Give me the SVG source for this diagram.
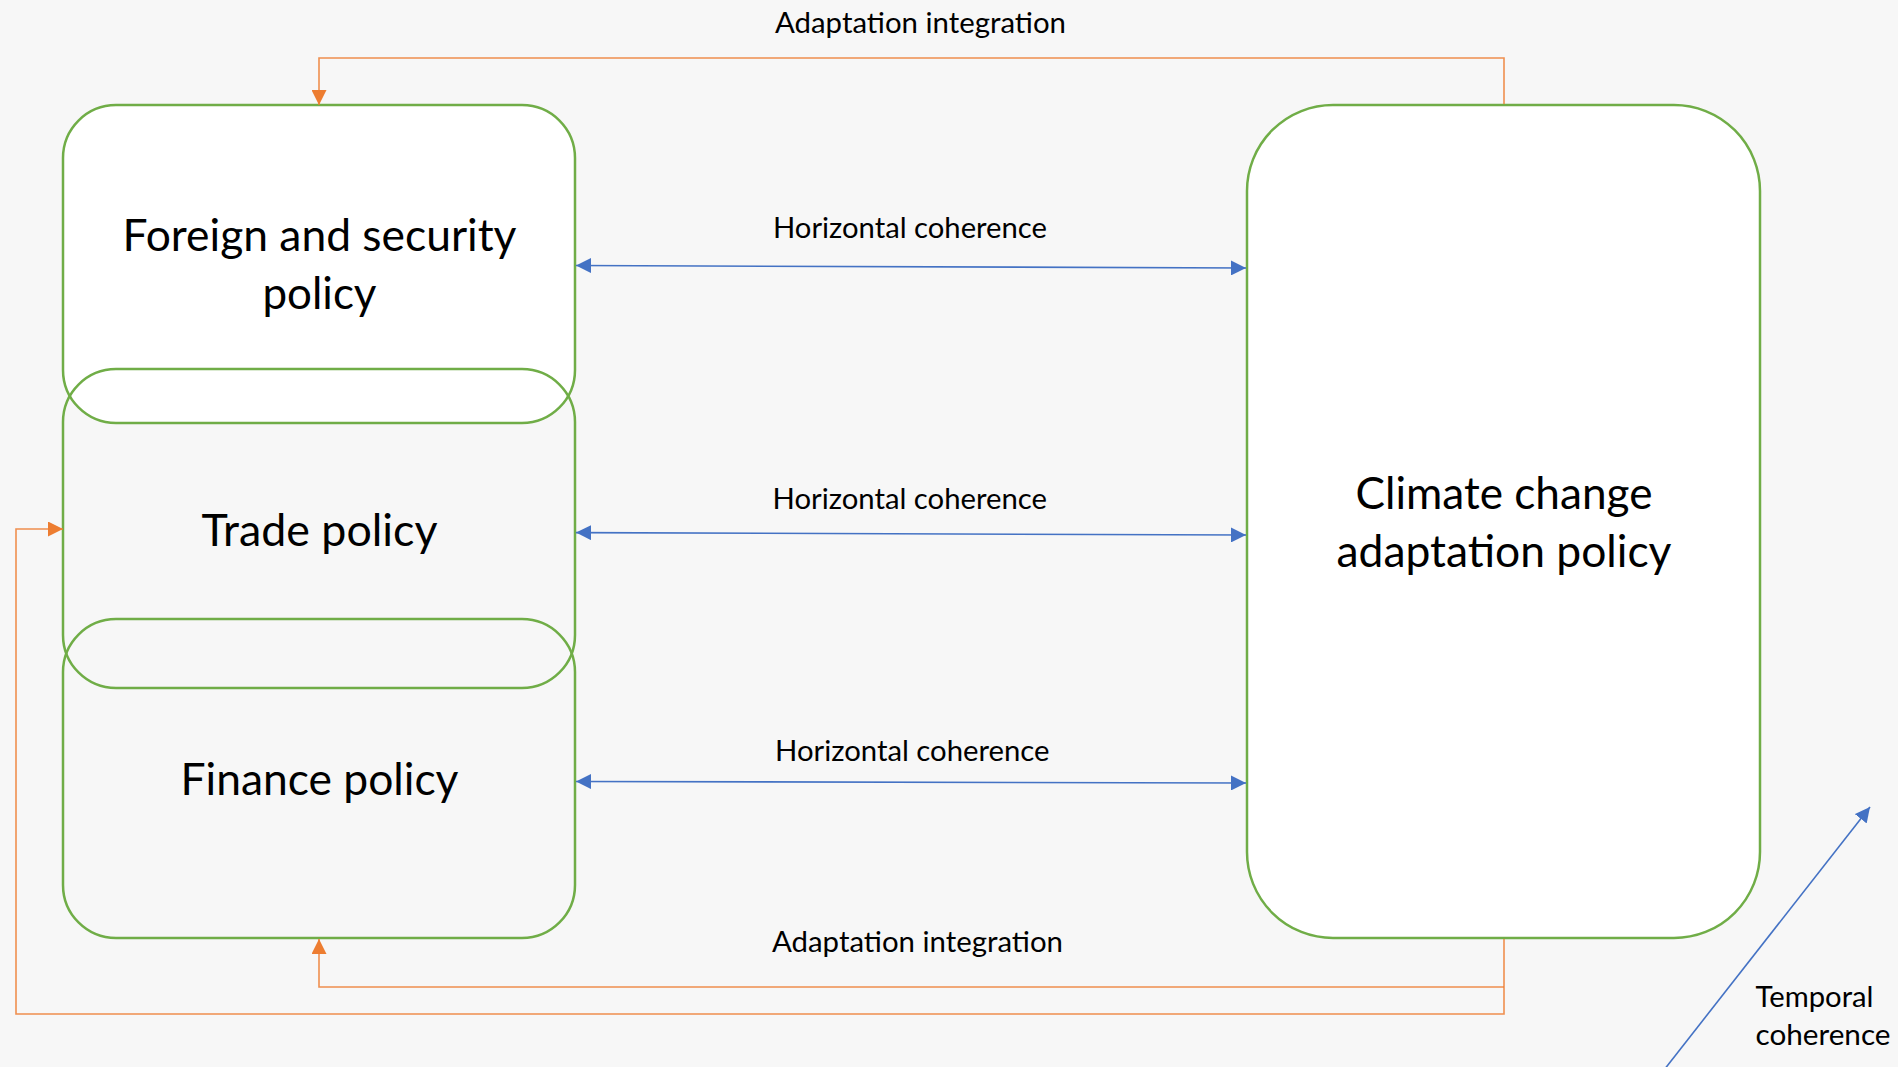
<svg xmlns="http://www.w3.org/2000/svg" width="1898" height="1067" viewBox="0 0 1898 1067">
<defs>
<style>
.box{stroke:#70AD47;stroke-width:2.5}
.big{font-family:Lato,"Open Sans","Liberation Sans",sans-serif;font-size:44px;fill:#000;text-anchor:middle}
.lbl{font-family:Lato,"Open Sans","Liberation Sans",sans-serif;font-size:28px;fill:#000}
.blue{stroke:#4472C4;stroke-width:1.6;fill:none}
.orange{stroke:#ED7D31;stroke-width:1.6;fill:none;stroke-opacity:0.85}
</style>
<marker id="ab" viewBox="0 0 10 10" refX="10" refY="5" markerUnits="userSpaceOnUse" markerWidth="15" markerHeight="15" orient="auto-start-reverse">
<path d="M0,0 L10,5 L0,10 z" fill="#4472C4"/>
</marker>
<marker id="ao" viewBox="0 0 10 10" refX="10" refY="5" markerUnits="userSpaceOnUse" markerWidth="15" markerHeight="15" orient="auto">
<path d="M0,0 L10,5 L0,10 z" fill="#ED7D31"/>
</marker>
</defs>
<rect x="0" y="0" width="1898" height="1067" fill="#F7F7F7"/>

<g id="foreign">
<rect class="box" x="63" y="105" width="512" height="318" rx="53" ry="53" fill="#FFFFFF"/>
<text class="big" x="319.5" y="250.5" textLength="394" lengthAdjust="spacingAndGlyphs">Foreign and security</text>
<text class="big" x="319.5" y="309" textLength="114" lengthAdjust="spacingAndGlyphs">policy</text>
</g>
<g id="trade">
<rect class="box" x="63" y="369" width="512" height="319" rx="53" ry="53" fill="none"/>
<text class="big" x="319.5" y="545.5" textLength="236" lengthAdjust="spacingAndGlyphs">Trade policy</text>
</g>
<g id="finance">
<rect class="box" x="63" y="619" width="512" height="319" rx="53" ry="53" fill="none"/>
<text class="big" x="319.5" y="795" textLength="278" lengthAdjust="spacingAndGlyphs">Finance policy</text>
</g>
<g id="climate">
<rect class="box" x="1247" y="105" width="513" height="833" rx="86" ry="86" fill="#FFFFFF"/>
<text class="big" x="1504" y="508.5" textLength="297" lengthAdjust="spacingAndGlyphs">Climate change</text>
<text class="big" x="1504" y="567" textLength="335" lengthAdjust="spacingAndGlyphs">adaptation policy</text>
</g>

<g id="connectors">
<path class="orange" d="M1504,104 V58 H319 V105" marker-end="url(#ao)"/>
<path class="orange" d="M1504,939 V1014 H16 V529 H63" marker-end="url(#ao)"/>
<path class="orange" d="M1504,987 H319 V939" marker-end="url(#ao)"/>
<line class="blue" x1="576" y1="265.5" x2="1246" y2="268" marker-start="url(#ab)" marker-end="url(#ab)"/>
<line class="blue" x1="576" y1="532.6" x2="1246" y2="535" marker-start="url(#ab)" marker-end="url(#ab)"/>
<line class="blue" x1="576" y1="781.5" x2="1246" y2="783" marker-start="url(#ab)" marker-end="url(#ab)"/>
<line class="blue" x1="1664" y1="1070" x2="1870" y2="807" marker-end="url(#ab)"/>
</g>

<g id="labels">
<text class="lbl" x="775" y="32.5" textLength="291" lengthAdjust="spacingAndGlyphs">Adaptation integration</text>
<text class="lbl" x="773" y="237.5" textLength="274" lengthAdjust="spacingAndGlyphs">Horizontal coherence</text>
<text class="lbl" x="772.5" y="508.5" textLength="274.5" lengthAdjust="spacingAndGlyphs">Horizontal coherence</text>
<text class="lbl" x="775" y="761" textLength="274.5" lengthAdjust="spacingAndGlyphs">Horizontal coherence</text>
<text class="lbl" x="772" y="951.5" textLength="291" lengthAdjust="spacingAndGlyphs">Adaptation integration</text>
<text class="lbl" x="1755.5" y="1006.5" textLength="118" lengthAdjust="spacingAndGlyphs">Temporal</text>
<text class="lbl" x="1755.5" y="1045" textLength="135" lengthAdjust="spacingAndGlyphs">coherence</text>
</g>
</svg>
